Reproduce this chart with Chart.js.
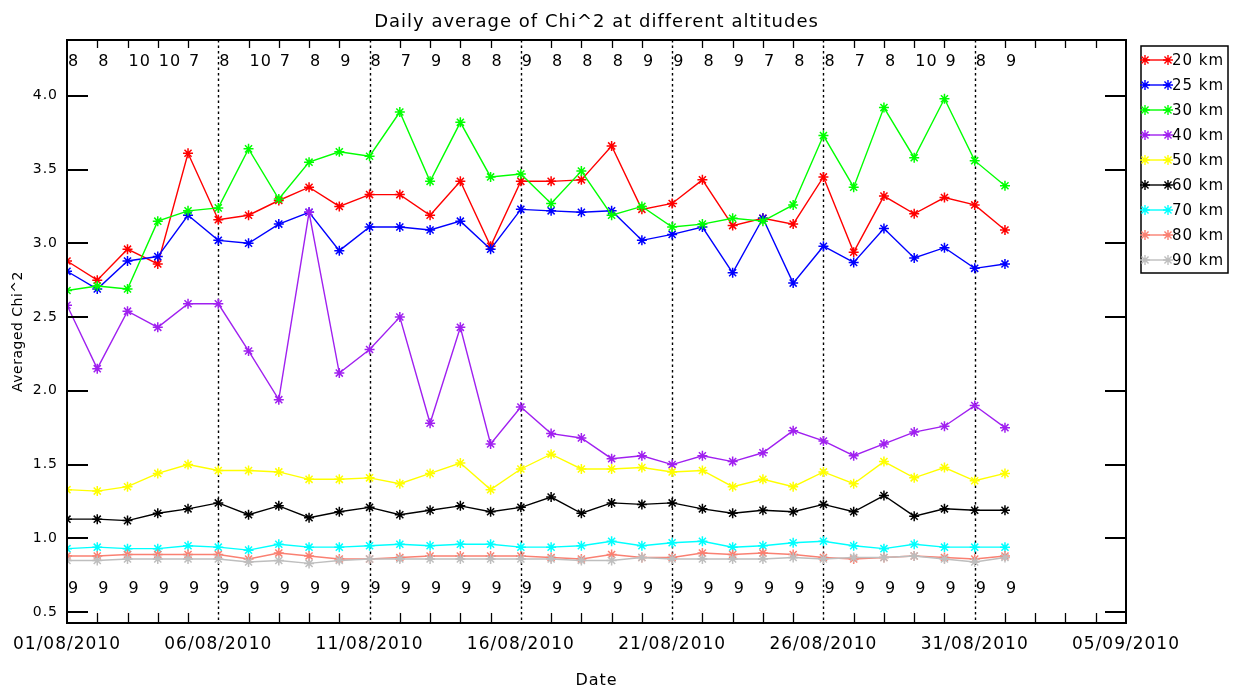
<!DOCTYPE html>
<html><head><meta charset="utf-8">
<script src="https://cdn.jsdelivr.net/npm/chart.js@4.4.0/dist/chart.umd.min.js"></script>
<style>html,body{margin:0;padding:0;background:#fff;}canvas{display:block;}</style>
</head><body>
<canvas id="c" width="1233" height="688"></canvas>
<script>
const dayIndex = [0,1,2,3,4,5,6,7,8,9,10,11,12,13,14,15,16,17,18,19,20,21,22,23,24,25,26,27,28,29,30,31];
const dateTickDays = [0,5,10,15,20,25,30,35];
const dateTickLabels = ['01/08/2010','06/08/2010','11/08/2010','16/08/2010','21/08/2010','26/08/2010','31/08/2010','05/09/2010'];
const dottedDays = [5,10,15,20,25,30];
const yTickValues = [0.5,1.0,1.5,2.0,2.5,3.0,3.5,4.0];
const seriesLabels = ['20 km','25 km','30 km','40 km','50 km','60 km','70 km','80 km','90 km'];
const seriesColors = ['#ff0000','#0000ff','#00ff00','#a020f0','#ffff00','#000000','#00ffff','#fa8072','#bebebe'];

const chi20 = [2.88,2.75,2.96,2.86,3.61,3.16,3.19,3.29,3.38,3.25,3.33,3.33,3.19,3.42,2.98,3.42,3.42,3.43,3.66,3.23,3.27,3.43,3.12,3.17,3.13,3.45,2.94,3.32,3.20,3.31,3.26,3.09];
const chi25 = [2.81,2.69,2.88,2.91,3.19,3.02,3.00,3.13,3.21,2.95,3.11,3.11,3.09,3.15,2.96,3.23,3.22,3.21,3.22,3.02,3.06,3.11,2.80,3.17,2.73,2.98,2.87,3.10,2.90,2.97,2.83,2.86];
const chi30 = [2.68,2.71,2.69,3.15,3.22,3.24,3.64,3.30,3.55,3.62,3.59,3.89,3.42,3.82,3.45,3.47,3.27,3.49,3.19,3.25,3.11,3.13,3.17,3.15,3.26,3.73,3.38,3.92,3.58,3.98,3.56,3.39];
const chi40 = [2.58,2.15,2.54,2.43,2.59,2.59,2.27,1.94,3.21,2.12,2.28,2.50,1.78,2.43,1.64,1.89,1.71,1.68,1.54,1.56,1.50,1.56,1.52,1.58,1.73,1.66,1.56,1.64,1.72,1.76,1.90,1.75];
const chi50 = [1.33,1.32,1.35,1.44,1.50,1.46,1.46,1.45,1.40,1.40,1.41,1.37,1.44,1.51,1.33,1.47,1.57,1.47,1.47,1.48,1.45,1.46,1.35,1.40,1.35,1.45,1.37,1.52,1.41,1.48,1.39,1.44];
const chi60 = [1.13,1.13,1.12,1.17,1.20,1.24,1.16,1.22,1.14,1.18,1.21,1.16,1.19,1.22,1.18,1.21,1.28,1.17,1.24,1.23,1.24,1.20,1.17,1.19,1.18,1.23,1.18,1.29,1.15,1.20,1.19,1.19];
const chi70 = [0.93,0.94,0.93,0.93,0.95,0.94,0.92,0.96,0.94,0.94,0.95,0.96,0.95,0.96,0.96,0.94,0.94,0.95,0.98,0.95,0.97,0.98,0.94,0.95,0.97,0.98,0.95,0.93,0.96,0.94,0.94,0.94];
const chi80 = [0.88,0.88,0.89,0.89,0.89,0.89,0.86,0.90,0.88,0.86,0.86,0.87,0.88,0.88,0.88,0.88,0.87,0.86,0.89,0.87,0.87,0.90,0.89,0.90,0.89,0.87,0.86,0.87,0.88,0.87,0.86,0.88];
const chi90 = [0.85,0.85,0.86,0.86,0.86,0.86,0.84,0.85,0.83,0.85,0.86,0.86,0.86,0.86,0.86,0.86,0.86,0.85,0.85,0.87,0.86,0.86,0.86,0.86,0.87,0.86,0.87,0.87,0.88,0.86,0.84,0.87];
const topCounts = [8,8,10,10,7,8,10,7,8,9,8,7,9,8,8,9,8,8,8,9,9,8,9,7,8,8,7,8,10,9,8,9];
const bottomCounts = [9,9,9,9,9,9,9,9,9,9,9,9,9,9,9,9,9,9,9,9,9,9,9,9,9,9,9,9,9,9,9,9];

const seriesValues = [chi20,chi25,chi30,chi40,chi50,chi60,chi70,chi80,chi90];
const FONT = 'DejaVu Sans';

const datasets = seriesValues.map((vals, i) => ({
  label: seriesLabels[i],
  data: vals.map((v, k) => ({x: dayIndex[k], y: v})),
  borderColor: seriesColors[i],
  backgroundColor: seriesColors[i],
  borderWidth: 1.4,
  pointStyle: 'star',
  pointRadius: 5,
  pointBorderWidth: 1.5,
  pointBorderColor: seriesColors[i],
  tension: 0,
  order: seriesValues.length - i
}));

const decorPlugin = {
  id: 'decor',
  beforeDraw(chart) {
    chart.ctx.letterSpacing = '1px';
  },
  beforeDatasetsDraw(chart) {
    const ctx = chart.ctx, xs = chart.scales.x, a = chart.chartArea;
    ctx.save();
    ctx.strokeStyle = '#000';
    ctx.lineWidth = 1.4;
    ctx.setLineDash([2.5, 3]);
    dottedDays.forEach(d => {
      const x = Math.round(xs.getPixelForValue(d)) + 0.5;
      ctx.beginPath(); ctx.moveTo(x, a.top); ctx.lineTo(x, a.bottom); ctx.stroke();
    });
    ctx.restore();
  },
  afterDraw(chart) {
    const ctx = chart.ctx, xs = chart.scales.x, ys = chart.scales.y, a = chart.chartArea;
    ctx.save();
    ctx.letterSpacing = '1px';
    ctx.strokeStyle = '#000';
    ctx.lineWidth = 2;
    ctx.setLineDash([]);
    ctx.strokeRect(a.left, a.top, a.right - a.left, a.bottom - a.top);
    ctx.lineWidth = 1.3;
    for (let d = xs.min + 1; d < xs.max; d++) {
      if (dottedDays.includes(d)) continue;
      const x = Math.round(xs.getPixelForValue(d)) + 0.5;
      ctx.beginPath(); ctx.moveTo(x, a.bottom); ctx.lineTo(x, a.bottom - 10); ctx.stroke();
      ctx.beginPath(); ctx.moveTo(x, a.top); ctx.lineTo(x, a.top + 8); ctx.stroke();
    }
    ctx.lineWidth = 2;
    yTickValues.forEach(v => {
      const y = Math.round(ys.getPixelForValue(v));
      ctx.beginPath(); ctx.moveTo(a.left, y); ctx.lineTo(a.left + 21, y); ctx.stroke();
      ctx.beginPath(); ctx.moveTo(a.right, y); ctx.lineTo(a.right - 21, y); ctx.stroke();
    });
    ctx.fillStyle = '#000';
    ctx.font = '16px ' + FONT;
    ctx.textAlign = 'left';
    ctx.textBaseline = 'middle';
    dayIndex.forEach((d, k) => {
      const x = xs.getPixelForValue(d);
      ctx.fillText(String(topCounts[k]), x + 1, 62);
      ctx.fillText(String(bottomCounts[k]), x + 1, 589);
    });
    ctx.textAlign = 'center';
    ctx.font = '18px ' + FONT;
    ctx.fillText('Daily average of Chi^2 at different altitudes', (a.left + a.right) / 2, 22);
    ctx.font = '16px ' + FONT;
    ctx.fillText('Date', (a.left + a.right) / 2, 681);
    ctx.save();
    ctx.translate(18, (a.top + a.bottom) / 2);
    ctx.rotate(-Math.PI / 2);
    ctx.font = '14px ' + FONT;
    ctx.letterSpacing = '0.5px';
    ctx.fillText('Averaged Chi^2', 0, 0);
    ctx.restore();
    const lx = 1141, ly = 46, lw = 87, lh = 227;
    ctx.lineWidth = 1.5;
    ctx.strokeStyle = '#000';
    ctx.strokeRect(lx, ly, lw, lh);
    chart.data.datasets.forEach((ds, i) => {
      const yy = 60 + i * 25;
      ctx.strokeStyle = ds.borderColor;
      ctx.lineWidth = 1.4;
      ctx.beginPath(); ctx.moveTo(1145, yy); ctx.lineTo(1168, yy); ctx.stroke();
      [1145, 1168].forEach(px => {
        Chart.helpers.drawPoint(ctx, {pointStyle: 'star', radius: 5, borderWidth: 1.5}, px, yy);
      });
      ctx.fillStyle = '#000';
      ctx.font = '15px ' + FONT;
      ctx.textAlign = 'left';
      ctx.fillText(ds.label, 1172, yy + 1);
    });
    ctx.restore();
  }
};

new Chart(document.getElementById('c'), {
  type: 'line',
  data: { datasets },
  options: {
    responsive: false,
    animation: false,
    devicePixelRatio: 1,
    layout: { padding: { top: 40, right: 107, left: 0, bottom: 0 } },
    plugins: { legend: { display: false }, title: { display: false }, tooltip: { enabled: false } },
    scales: {
      x: {
        type: 'linear', min: 0, max: 35,
        afterFit(s) { s.height = 65; },
        afterBuildTicks(s) { s.ticks = dateTickDays.map(v => ({ value: v })); },
        grid: { display: false, drawTicks: false },
        border: { display: false },
        ticks: {
          autoSkip: false, maxRotation: 0, padding: 11,
          color: '#000', font: { family: FONT, size: 17 },
          callback: (v, i) => dateTickLabels[i]
        }
      },
      y: {
        type: 'linear', min: 0.426, max: 4.378,
        afterFit(s) { s.width = 67; },
        afterBuildTicks(s) { s.ticks = yTickValues.map(v => ({ value: v })); },
        grid: { display: false, drawTicks: false },
        border: { display: false },
        ticks: {
          padding: 9, color: '#000', font: { family: FONT, size: 14 },
          callback: (v) => v.toFixed(1)
        }
      }
    }
  },
  plugins: [decorPlugin]
});
</script>
</body></html>
